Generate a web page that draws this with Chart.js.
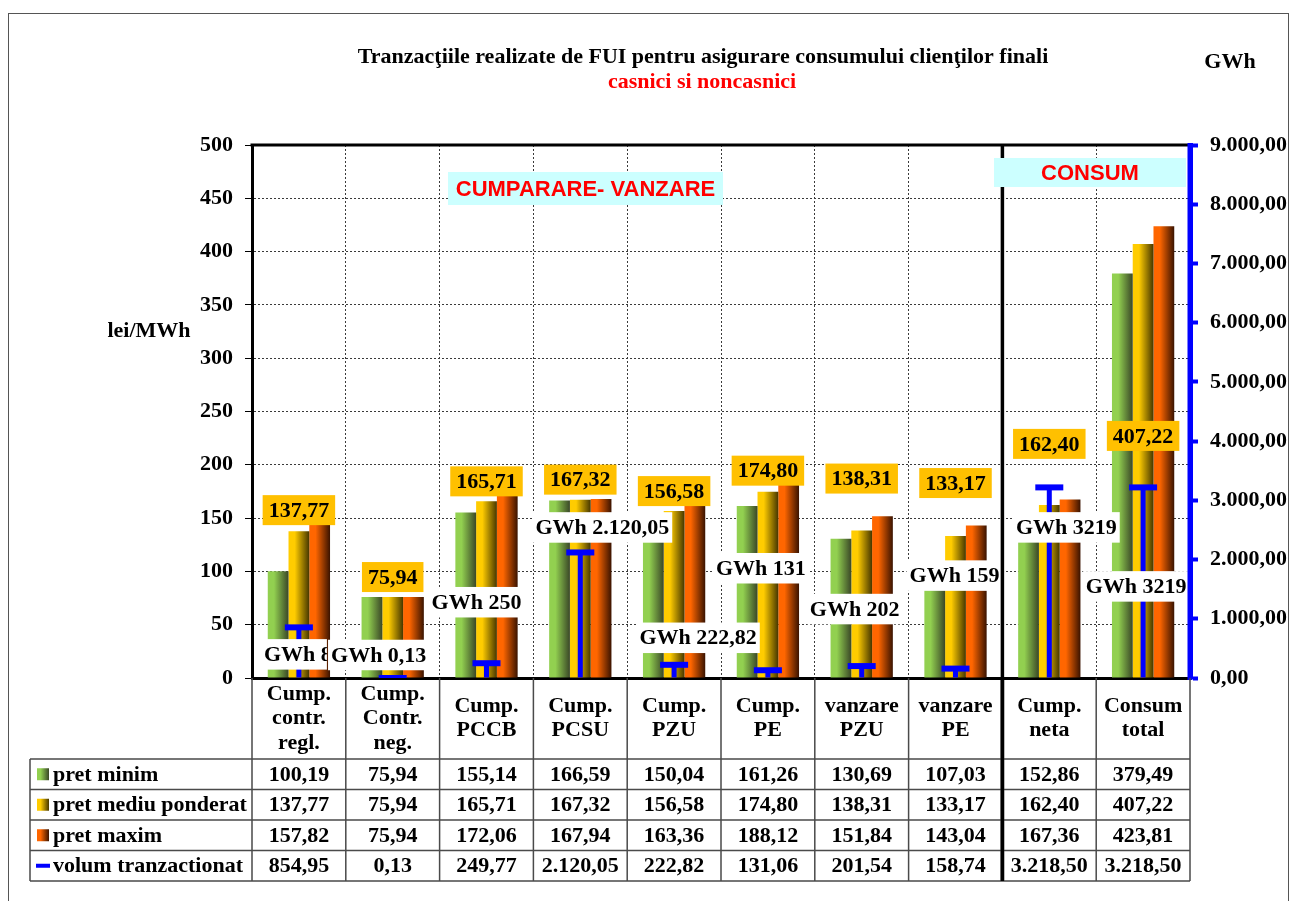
<!DOCTYPE html>
<html><head><meta charset="utf-8">
<script src="https://cdn.jsdelivr.net/npm/chart.js@4.4.1/dist/chart.umd.min.js"></script>
<style>html,body{margin:0;padding:0;background:#fff;}canvas{display:block;}</style>
</head><body>
<canvas id="c" width="1290" height="901"></canvas>
<script>
// ---------------- data ----------------
const categories = [
  ['Cump.', 'contr.', 'regl.'], ['Cump.', 'Contr.', 'neg.'], ['Cump.', 'PCCB'], ['Cump.', 'PCSU'],
  ['Cump.', 'PZU'], ['Cump.', 'PE'], ['vanzare', 'PZU'], ['vanzare', 'PE'], ['Cump.', 'neta'], ['Consum', 'total']
];
const pretMinim = [100.19, 75.94, 155.14, 166.59, 150.04, 161.26, 130.69, 107.03, 152.86, 379.49];
const pretMediu = [137.77, 75.94, 165.71, 167.32, 156.58, 174.80, 138.31, 133.17, 162.40, 407.22];
const pretMaxim = [157.82, 75.94, 172.06, 167.94, 163.36, 188.12, 151.84, 143.04, 167.36, 423.81];
const volum = [854.95, 0.13, 249.77, 2120.05, 222.82, 131.06, 201.54, 158.74, 3218.50, 3218.50];
const volumLabels = ['GWh 855', 'GWh 0,13', 'GWh 250', 'GWh 2.120,05', 'GWh 222,82', 'GWh 131', 'GWh 202', 'GWh 159', 'GWh 3219', 'GWh 3219'];
const seriesNames = ['pret minim', 'pret mediu ponderat', 'pret maxim', 'volum tranzactionat'];
const titleText = 'Tranzacţiile realizate de FUI pentru asigurare consumului clienţilor finali';
const subtitleText = 'casnici si noncasnici';
const leftAxisTitle = 'lei/MWh';
const rightAxisTitle = 'GWh';
const sectionLabels = ['CUMPARARE- VANZARE', 'CONSUM'];
const leftAxisRange = [0, 500, 50];
const rightAxisRange = [0, 9000, 1000];

// ---------------- styles ----------------
const SERIF = "'Liberation Serif', 'Times New Roman', serif";
const SANS = "'Liberation Sans', Arial, sans-serif";
const barGrad = [['#92D050', '#3A4727'], ['#FFCC00', '#463700'], ['#FF6600', '#3A1300']];
const BLUE = '#0000FF';
// label offsets (pixels) – placement of the data labels as in the reference
const avgLabelDy = [-21, -20, -20, -20, -20, -21, -52, -53, -61, 192];
const gwhLabelShift = [[-5, 27], [-14, -23], [-10, -61], [22, -25], [24, -27], [-7, -102], [-7, -57], [-1, -93], [17, 40], [-7, 99]];
const gwhLabelMaxW = [66, null, null, null, null, null, null, null, null, null];

function fmt(v, dec) {
  const s = v.toFixed(dec === undefined ? 2 : dec);
  let parts = s.split('.');
  let i = parts[0].replace(/\B(?=(\d{3})+(?!\d))/g, '.');
  return parts.length > 1 ? i + ',' + parts[1] : i;
}

function makeGrad(ctx, left, width, stops) {
  const g = ctx.createLinearGradient(left, 0, left + width, 0);
  g.addColorStop(0, stops[0]);
  g.addColorStop(0.3, stops[0]);
  g.addColorStop(1, stops[1]);
  return g;
}

const gradientPlugin = {
  id: 'barGradient',
  beforeDatasetDraw(chart, args) {
    const ds = chart.data.datasets[args.index];
    if (!ds.gradStops) return;
    const ctx = chart.ctx;
    args.meta.data.forEach(el => {
      const p = el.getProps(['x', 'width'], true);
      const g = makeGrad(ctx, p.x - p.width / 2, p.width, ds.gradStops);
      el.options = Object.assign({}, el.options, { backgroundColor: g });
    });
  }
};

function boxLabel(ctx, text, cx, cy, bg, padX, h, maxW) {
  ctx.font = 'bold 22px ' + SERIF;
  const tw = ctx.measureText(text).width;
  let w = tw + 2 * padX;
  if (maxW && w > maxW) w = maxW;
  ctx.fillStyle = bg;
  ctx.fillRect(cx - w / 2, cy - h / 2, w, h);
  ctx.save();
  ctx.beginPath();
  ctx.rect(cx - w / 2, cy - h / 2, w, h);
  ctx.clip();
  ctx.fillStyle = '#000';
  ctx.textAlign = 'left';
  ctx.textBaseline = 'middle';
  ctx.fillText(text, cx - w / 2 + padX, cy + 1);
  ctx.restore();
}

const overlayPlugin = {
  id: 'overlay',
  afterDraw(chart) {
    const ctx = chart.ctx;
    const xs = chart.scales.x, ys = chart.scales.y, y2 = chart.scales.y2;
    const ca = chart.chartArea;
    const n = categories.length;
    const catW = (xs.getPixelForValue(1) - xs.getPixelForValue(0));
    const bound = i => xs.getPixelForValue(i) - catW / 2;

    // data labels: weighted average price
    for (let i = 0; i < n; i++) {
      const cx = xs.getPixelForValue(i);
      const cy = ys.getPixelForValue(pretMediu[i]) + avgLabelDy[i];
      boxLabel(ctx, fmt(pretMediu[i]), cx, cy, '#FFC000', 6, 30, null);
    }
    // data labels: volume
    for (let i = 0; i < n; i++) {
      const cx = xs.getPixelForValue(i) + gwhLabelShift[i][0];
      const cy = y2.getPixelForValue(volum[i]) + gwhLabelShift[i][1];
      boxLabel(ctx, volumLabels[i], cx, cy, '#FFFFFF', 3, 30.5, gwhLabelMaxW[i]);
    }

    // table geometry
    const tTop = ca.bottom;
    const headerBottom = tTop + 81;
    const rowH = 30.5;
    const tBottom = headerBottom + 4 * rowH;
    const legLeft = 30;

    // separator between sales and consumption
    const sepX = bound(8);
    ctx.save();
    ctx.strokeStyle = '#000';
    ctx.lineWidth = 3.5;
    ctx.beginPath(); ctx.moveTo(sepX, ca.top); ctx.lineTo(sepX, tBottom); ctx.stroke();
    // top border of the plot
    ctx.lineWidth = 3;
    ctx.beginPath(); ctx.moveTo(ca.left - 1.5, ca.top); ctx.lineTo(ca.right, ca.top); ctx.stroke();
    // right axis line on top
    ctx.strokeStyle = BLUE;
    ctx.lineWidth = 5;
    ctx.beginPath(); ctx.moveTo(ca.right, ca.top - 2); ctx.lineTo(ca.right, ca.bottom + 2); ctx.stroke();
    ctx.restore();

    // section boxes
    ctx.save();
    ctx.font = 'bold 22px ' + SANS;
    ctx.textAlign = 'center'; ctx.textBaseline = 'middle';
    ctx.fillStyle = '#CCFFFF'; ctx.fillRect(448, 172, 275, 33);
    ctx.fillStyle = '#FF0000'; ctx.fillText(sectionLabels[0], 585.5, 189.5);
    ctx.fillStyle = '#CCFFFF'; ctx.fillRect(994, 158, 192, 29);
    ctx.fillStyle = '#FF0000'; ctx.fillText(sectionLabels[1], 1090, 173.5);
    ctx.restore();

    // titles
    ctx.save();
    ctx.textAlign = 'center'; ctx.textBaseline = 'middle';
    ctx.fillStyle = '#000';
    ctx.font = 'bold 22px ' + SERIF;
    ctx.fillText(titleText, 703, 57);
    ctx.fillStyle = '#FF0000';
    ctx.fillText(subtitleText, 702, 82);
    ctx.fillStyle = '#000';
    ctx.fillText(rightAxisTitle, 1230, 62);
    ctx.fillText(leftAxisTitle, 149, 331);
    ctx.restore();

    // data table
    ctx.save();
    ctx.strokeStyle = '#4a4a4a';
    ctx.lineWidth = 1.5;
    ctx.beginPath();
    for (let k = 0; k <= 4; k++) {
      const y = headerBottom + k * rowH;
      ctx.moveTo(legLeft, y); ctx.lineTo(ca.right, y);
    }
    ctx.moveTo(legLeft, headerBottom); ctx.lineTo(legLeft, tBottom);
    for (let i = 0; i <= n; i++) {
      if (i === 8) continue;
      const x = bound(i);
      ctx.moveTo(x, tTop); ctx.lineTo(x, tBottom);
    }
    ctx.stroke();
    ctx.strokeStyle = '#000';
    ctx.lineWidth = 3.5;
    ctx.beginPath(); ctx.moveTo(sepX, tTop); ctx.lineTo(sepX, tBottom); ctx.stroke();

    const rows = [pretMinim, pretMediu, pretMaxim, volum];
    ctx.font = 'bold 22px ' + SERIF;
    ctx.fillStyle = '#000';
    ctx.textBaseline = 'middle';
    ctx.textAlign = 'center';
    for (let r = 0; r < 4; r++) {
      const cy = headerBottom + r * rowH + rowH / 2 + 1;
      for (let i = 0; i < n; i++) {
        ctx.fillText(fmt(rows[r][i]), xs.getPixelForValue(i), cy);
      }
    }
    ctx.textAlign = 'left';
    for (let r = 0; r < 4; r++) {
      const cy = headerBottom + r * rowH + rowH / 2;
      if (r < 3) {
        ctx.fillStyle = makeGrad(ctx, 37, 12, barGrad[r]);
        ctx.fillRect(37, cy - 6, 12, 12);
      } else {
        ctx.fillStyle = BLUE;
        ctx.fillRect(36, cy - 2, 14, 4);
      }
      ctx.fillStyle = '#000';
      ctx.fillText(seriesNames[r], 53, cy + 1);
    }
    ctx.restore();

    // outer frame
    ctx.save();
    ctx.strokeStyle = '#555';
    ctx.lineWidth = 1;
    ctx.strokeRect(8.5, 13.5, 1280, 900);
    ctx.restore();
  }
};

const tickFont = { family: SERIF, size: 22, weight: 'bold' };

new Chart(document.getElementById('c'), {
  type: 'bar',
  data: {
    labels: categories,
    datasets: [
      { label: seriesNames[0], data: pretMinim, yAxisID: 'y', order: 2, gradStops: barGrad[0], backgroundColor: barGrad[0][0], categoryPercentage: 0.664, barPercentage: 1 },
      { label: seriesNames[1], data: pretMediu, yAxisID: 'y', order: 2, gradStops: barGrad[1], backgroundColor: barGrad[1][0], categoryPercentage: 0.664, barPercentage: 1 },
      { label: seriesNames[2], data: pretMaxim, yAxisID: 'y', order: 2, gradStops: barGrad[2], backgroundColor: barGrad[2][0], categoryPercentage: 0.664, barPercentage: 1 },
      { label: seriesNames[3], data: volum, yAxisID: 'y2', order: 1, grouped: false, backgroundColor: BLUE, maxBarThickness: 5 },
      { type: 'line', label: seriesNames[3] + ' (cap)', data: volum, yAxisID: 'y2', order: 0, showLine: false,
        pointStyle: 'line', pointRadius: 14, pointHoverRadius: 14, pointBorderWidth: 6, pointHoverBorderWidth: 6,
        borderColor: BLUE, backgroundColor: BLUE, pointBorderColor: BLUE, pointBackgroundColor: BLUE }
    ]
  },
  options: {
    responsive: false,
    animation: false,
    events: [],
    layout: { padding: { top: 145, left: 0, right: 0, bottom: 0 } },
    plugins: { legend: { display: false }, tooltip: { enabled: false }, title: { display: false } },
    scales: {
      x: {
        offset: true,
        grid: {
          offset: true, drawTicks: false, lineWidth: 1,
          color: c => (c.index === 0 || c.index === 8 || c.index === categories.length) ? 'rgba(0,0,0,0)' : '#3a3a3a'
        },
        border: { display: true, color: '#000', width: 3, dash: [2, 2] },
        ticks: { autoSkip: false, maxRotation: 0, minRotation: 0, color: '#000', crossAlign: 'center', padding: 16,
          font: { family: SERIF, size: 22, weight: 'bold', lineHeight: 1.114 } },
        afterFit: s => { s.height = 223; }
      },
      y: {
        position: 'left', min: leftAxisRange[0], max: leftAxisRange[1],
        ticks: { stepSize: leftAxisRange[2], color: '#000', font: tickFont, padding: 12 },
        grid: {
          lineWidth: 1, tickColor: '#000', tickLength: 7, tickWidth: 1,
          color: c => (c.tick && (c.tick.value === leftAxisRange[0] || c.tick.value === leftAxisRange[1])) ? 'rgba(0,0,0,0)' : '#3a3a3a'
        },
        border: { display: true, color: '#000', width: 3, dash: [2, 2] },
        afterFit: s => { s.width = 252; }
      },
      y2: {
        position: 'right', min: rightAxisRange[0], max: rightAxisRange[1],
        ticks: { stepSize: rightAxisRange[2], color: '#000', font: tickFont, padding: 12, callback: v => fmt(v) },
        grid: { drawOnChartArea: false, tickColor: BLUE, tickWidth: 4, tickLength: 8 },
        border: { display: true, color: BLUE, width: 5 },
        afterFit: s => { s.width = 100; }
      }
    }
  },
  plugins: [gradientPlugin, overlayPlugin]
});
</script>
</body></html>
